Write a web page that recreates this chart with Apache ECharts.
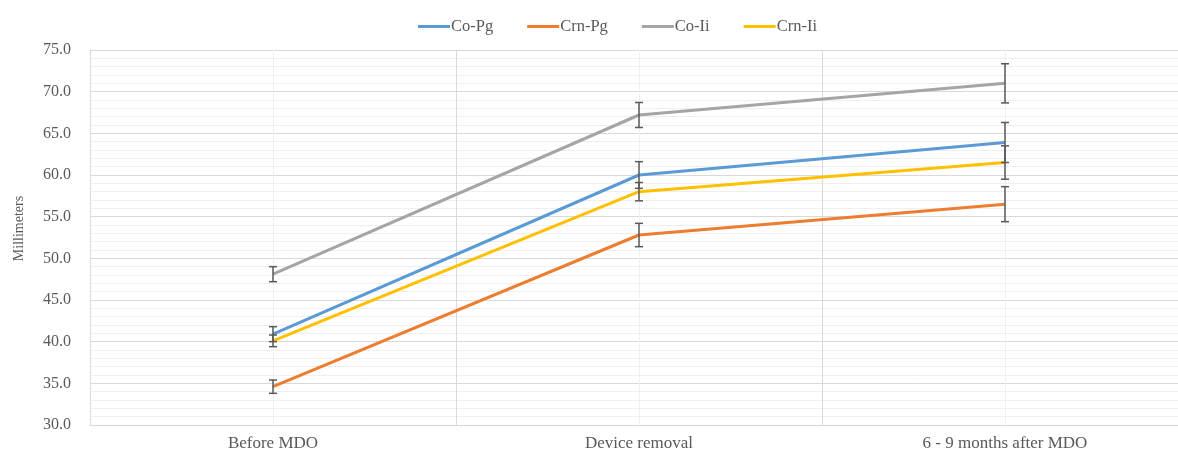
<!DOCTYPE html>
<html>
<head>
<meta charset="utf-8">
<script src="https://cdn.jsdelivr.net/npm/echarts@6/dist/echarts.min.js"></script>
<style>html,body{margin:0;padding:0;background:#fff;overflow:hidden;}#c{width:1200px;height:454px;}</style>
</head>
<body>
<div id="c"></div>
<script>
var categories = ['Before MDO', 'Device removal', '6 - 9 months after MDO'];
var seriesNames = ['Co-Pg', 'Crn-Pg', 'Co-Ii', 'Crn-Ii'];
var coPg = [40.9, 60.0, 63.9];
var crnPg = [34.6, 52.8, 56.5];
var coIi = [48.1, 67.2, 71.0];
var crnIi = [40.1, 58.0, 61.5];
var coPgErr = [0.9, 1.6, 2.4];
var crnPgErr = [0.8, 1.4, 2.1];
var coIiErr = [0.9, 1.5, 2.35];
var crnIiErr = [0.7, 1.1, 2.0];
var yTicks = ['30.0','35.0','40.0','45.0','50.0','55.0','60.0','65.0','70.0','75.0'];

var colors = ['#5B9BD5', '#ED7D31', '#A5A5A5', '#FFC000'];
var values = [coPg, crnPg, coIi, crnIi];
var errs = [coPgErr, crnPgErr, coIiErr, crnIiErr];
var font = 'Liberation Serif';

var series = [];
values.forEach(function (vals, i) {
  series.push({
    name: seriesNames[i], type: 'line', data: vals, showSymbol: false, symbol: 'none',
    lineStyle: { width: 3, color: colors[i] }, itemStyle: { color: colors[i] }, z: 3,
    markLine: i === 0 ? {
      silent: true, symbol: 'none', label: { show: false },
      lineStyle: { color: '#f0f0f0', width: 1, type: 'solid' },
      data: categories.map(function (c) { return { xAxis: c }; }), z: 1
    } : undefined
  });
});
values.forEach(function (vals, i) {
  series.push({
    name: seriesNames[i] + ' err', type: 'custom', z: 5, silent: true,
    data: vals.map(function (v, k) { return [k, v - errs[i][k], v + errs[i][k]]; }),
    renderItem: function (params, api) {
      var lo = api.coord([api.value(0), api.value(1)]);
      var hi = api.coord([api.value(0), api.value(2)]);
      var w = 4;
      var st = { stroke: '#595959', lineWidth: 1.5 };
      return { type: 'group', children: [
        { type: 'line', shape: { x1: lo[0], y1: lo[1], x2: hi[0], y2: hi[1] }, style: st },
        { type: 'line', shape: { x1: lo[0] - w, y1: lo[1], x2: lo[0] + w, y2: lo[1] }, style: st },
        { type: 'line', shape: { x1: hi[0] - w, y1: hi[1], x2: hi[0] + w, y2: hi[1] }, style: st }
      ]};
    }
  });
});

var chart = echarts.init(document.getElementById('c'));
chart.setOption({
  animation: false,
  color: colors,
  legend: {
    data: seriesNames.map(function (n) { return { name: n, icon: 'rect' }; }),
    top: 13, left: 413, itemWidth: 32, itemHeight: 3, itemGap: 34,
    textStyle: { fontFamily: font, fontSize: 16.5, color: '#595959', padding: [0, 0, 0, -4] }
  },
  grid: { left: 90, right: 12, top: 50, height: 375, containLabel: false },
  xAxis: {
    type: 'category', data: categories, boundaryGap: true,
    axisLine: { show: true, lineStyle: { color: '#d9d9d9', width: 1 } },
    axisTick: { show: false },
    axisLabel: { fontFamily: font, fontSize: 17, color: '#595959', margin: 10 },
    splitLine: { show: true, lineStyle: { color: '#d9d9d9', width: 1 } }
  },
  yAxis: {
    type: 'value', min: 30, max: 75, interval: 5,
    name: 'Millimeters', nameLocation: 'middle', nameGap: 64, nameRotate: 90,
    nameTextStyle: { fontFamily: font, fontSize: 14, color: '#595959', padding: [0, 0, 0, 18] },
    axisLine: { show: true, lineStyle: { color: '#d9d9d9', width: 1 } },
    axisTick: { show: false },
    axisLabel: { fontFamily: font, fontSize: 16, color: '#595959', margin: 19,
      formatter: function (v) { return yTicks[Math.round((v - 30) / 5)]; } },
    splitLine: { show: true, lineStyle: { color: '#d9d9d9', width: 1 } },
    minorTick: { show: false, splitNumber: 5 },
    minorSplitLine: { show: true, lineStyle: { color: '#efefef', width: 1 } }
  },
  series: series
});
</script>
</body>
</html>
